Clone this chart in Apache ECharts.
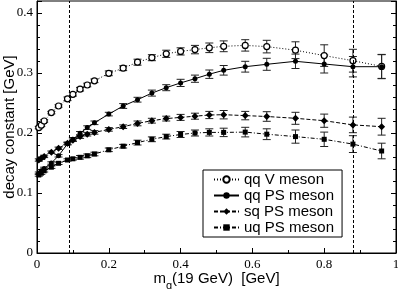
<!DOCTYPE html>
<html><head><meta charset="utf-8">
<script src="https://cdn.jsdelivr.net/npm/echarts@6/dist/echarts.min.js"></script>
<style>html,body{margin:0;padding:0;background:#fff}#c{width:398px;height:289px}</style>
</head><body><div id="c"></div>
<script>
const xVals = [0.005,0.012,0.02,0.04,0.06,0.085,0.10,0.12,0.14,0.16,0.20,0.24,0.28,0.32,0.36,0.40,0.44,0.48,0.52,0.58,0.64,0.72,0.80,0.88,0.96];
const qqV  = [0.209,0.213,0.220,0.234,0.245,0.257,0.2645,0.273,0.280,0.287,0.2995,0.308,0.318,0.3255,0.332,0.336,0.339,0.342,0.3445,0.346,0.344,0.338,0.329,0.3205,0.311];
const qqPS = [0.133,0.137,0.141,0.150,0.162,0.182,0.1895,0.1995,0.209,0.217,0.2315,0.245,0.2555,0.2665,0.2755,0.2835,0.2905,0.298,0.3045,0.3105,0.3145,0.3195,0.315,0.3105,0.3105];
const sqPS = [0.155,0.158,0.161,0.168,0.1745,0.183,0.188,0.194,0.198,0.201,0.206,0.2105,0.216,0.2205,0.224,0.226,0.228,0.23,0.2305,0.229,0.2275,0.2245,0.2205,0.2135,0.2105];
const uqPS = [0.130,0.133,0.137,0.143,0.1495,0.155,0.157,0.1595,0.162,0.165,0.172,0.178,0.184,0.1895,0.194,0.1975,0.2,0.201,0.201,0.2015,0.198,0.194,0.1895,0.1815,0.170];
const errV  = [.002,.002,.002,.002,.002,.003,.003,.003,.003,.003,.004,.004,.005,.005,.006,.006,.007,.008,.009,.0095,.0105,.014,.018,.019,.02];
const errQQ = [.002,.002,.002,.002,.002,.002,.003,.003,.003,.003,.003,.004,.004,.005,.005,.006,.006,.007,.008,.009,.01,.012,.015,.017,.02];
const errSQ = [.002,.002,.002,.002,.002,.002,.002,.003,.003,.003,.003,.003,.004,.004,.004,.005,.005,.006,.007,.007,.008,.01,.011,.013,.014];
const errUQ = [.002,.002,.002,.002,.002,.002,.002,.003,.003,.003,.003,.003,.004,.004,.004,.005,.005,.006,.007,.008,.009,.011,.012,.014,.013];
const seriesNames = ['qq V meson','qq PS meson','sq PS meson','uq PS meson'];
const refLines = [0.085, 0.88];

const pts = ys => xVals.map((x,i)=>[x, ys[i]]);
const errs = (ys, es) => xVals.map((x,i)=>[x, ys[i]-es[i], ys[i]+es[i]]);

function errBar(params, api){
  const x = api.value(0);
  const a = api.coord([x, api.value(1)]);
  const b = api.coord([x, api.value(2)]);
  const w = 4;
  const st = {stroke:'#222', lineWidth:1};
  return {type:'group', children:[
    {type:'line', shape:{x1:a[0],y1:a[1],x2:b[0],y2:b[1]}, style:st},
    {type:'line', shape:{x1:a[0]-w,y1:a[1],x2:a[0]+w,y2:a[1]}, style:st},
    {type:'line', shape:{x1:b[0]-w,y1:b[1],x2:b[0]+w,y2:b[1]}, style:st}
  ]};
}
function errSeries(ys, es){
  return {type:'custom', renderItem: errBar, data: errs(ys, es), encode:{x:0, y:[1,2]}, silent:true, z:1};
}

const chart = echarts.init(document.getElementById('c'), null, {renderer:'canvas'});
const axisFont = {fontFamily:'Liberation Serif', fontSize:13, color:'#000'};
chart.setOption({
  animation:false,
  backgroundColor:'#fff',
  grid:{left:37, right:2, top:1, bottom:36, show:true, borderColor:'#000', borderWidth:1, containLabel:false, outerBoundsMode:'none'},
  xAxis:{type:'value', min:0, max:1, interval:0.2,
    axisLine:{lineStyle:{color:'#000'}},
    axisTick:{inside:true, length:5, lineStyle:{color:'#000'}},
    minorTick:{show:true, splitNumber:2, length:3, lineStyle:{color:'#000'}},
    splitLine:{show:false},
    axisLabel:{...axisFont, margin:5},
    name:'{m|m}{s|q}{m|(19 GeV)  [GeV]}', nameLocation:'middle', nameGap:18, nameMoveOverlap:false,
    nameTextStyle:{rich:{m:{fontFamily:'Liberation Sans', fontSize:15, color:'#000', verticalAlign:'top'}, s:{fontFamily:'Liberation Sans', fontSize:11, color:'#000', verticalAlign:'top', padding:[9,0,0,0]}}}
  },
  yAxis:[{type:'value', min:0, max:0.42, interval:0.1,
    axisLine:{lineStyle:{color:'#000'}},
    axisTick:{inside:true, length:5, lineStyle:{color:'#000'}},
    minorTick:{show:true, splitNumber:5, length:3, lineStyle:{color:'#000'}},
    splitLine:{show:false},
    axisLabel:{...axisFont, margin:4, showMaxLabel:false},
    name:'decay constant [GeV]', nameLocation:'middle', nameGap:20, nameMoveOverlap:false,
    nameTextStyle:{fontFamily:'Liberation Sans', fontSize:15, color:'#000'}
  },{type:'value', min:0, max:0.42, interval:0.1, position:'right',
    axisLine:{show:true, lineStyle:{color:'#000'}},
    axisTick:{inside:true, length:5, lineStyle:{color:'#000'}},
    minorTick:{show:true, splitNumber:5, length:3, lineStyle:{color:'#000'}},
    splitLine:{show:false}, axisLabel:{show:false}
  }],
  legend:{orient:'vertical', left:203, top:170, data:seriesNames,
    backgroundColor:'#fff', borderColor:'#000', borderWidth:1, borderRadius:0,
    padding:[2,8,2,10], itemGap:1, itemWidth:25, itemHeight:8,
    textStyle:{fontFamily:'Liberation Sans', fontSize:15, color:'#000'}},
  series:[
    errSeries(qqV, errV), errSeries(qqPS, errQQ), errSeries(sqPS, errSQ), errSeries(uqPS, errUQ),
    {name:seriesNames[0], type:'line', data:pts(qqV), symbol:'circle', symbolSize:6,
      itemStyle:{color:'#fff', borderColor:'#000', borderWidth:1.2},
      lineStyle:{color:'#000', width:1, type:[1,2]}, z:3,
      markLine:{silent:true, symbol:'none', label:{show:false},
        lineStyle:{color:'#000', width:1, type:[3,2]}, data:refLines.map(v=>({xAxis:v}))}},
    {name:seriesNames[1], type:'line', data:pts(qqPS), symbol:'circle', symbolSize:5,
      itemStyle:{color:'#000'}, lineStyle:{color:'#000', width:1, type:'solid'}, z:3},
    {name:seriesNames[2], type:'line', data:pts(sqPS), symbol:'diamond', symbolSize:7,
      itemStyle:{color:'#000'}, lineStyle:{color:'#000', width:1, type:[4,2]}, z:3},
    {name:seriesNames[3], type:'line', data:pts(uqPS), symbol:'rect', symbolSize:5,
      itemStyle:{color:'#000'}, lineStyle:{color:'#000', width:1, type:[4,2,1,2]}, z:3}
  ]
});
</script></body></html>
